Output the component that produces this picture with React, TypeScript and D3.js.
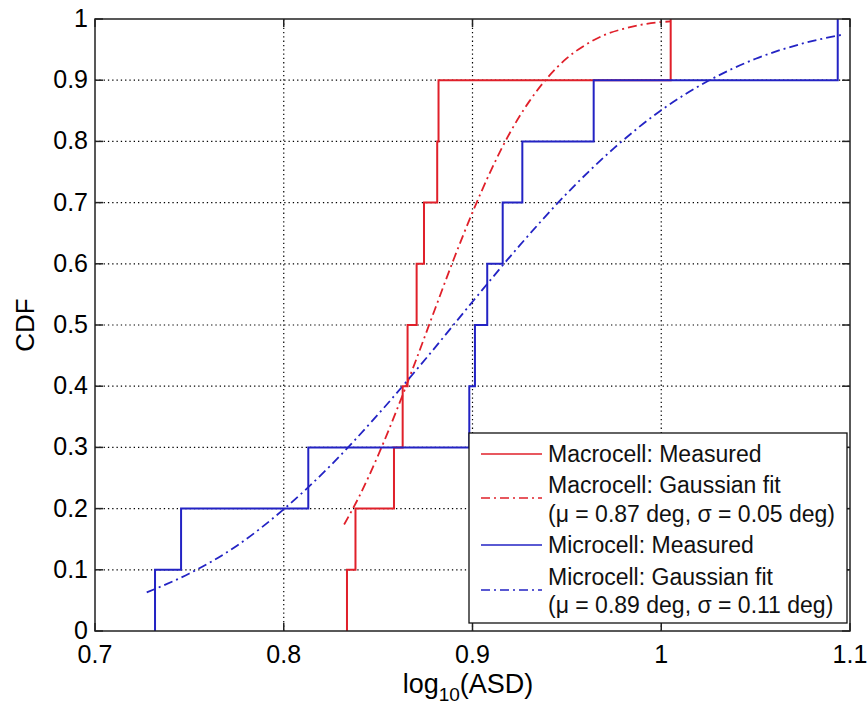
import React from 'react';
import * as d3 from 'd3';

const macroMeasured = [0.8335, 0.838, 0.8584, 0.863, 0.8656, 0.8704, 0.8743, 0.8813, 0.882, 1.005];
const microMeasured = [0.7318, 0.7456, 0.813, 0.8983, 0.9013, 0.9078, 0.916, 0.9264, 0.9642, 1.0935];
const cdfLevels = [0.1, 0.2, 0.3, 0.4, 0.5, 0.6, 0.7, 0.8, 0.9, 1.0];

// gaussian fit curves
const macroFitX = [0.832, 0.84, 0.85, 0.86, 0.87, 0.88, 0.89, 0.9, 0.91, 0.92, 0.93, 0.94, 0.95, 0.96, 0.97, 0.98, 0.99, 1.0, 1.005];
const macroFitY = [0.174, 0.22, 0.287, 0.362, 0.442, 0.525, 0.607, 0.684, 0.754, 0.815, 0.865, 0.905, 0.936, 0.958, 0.974, 0.984, 0.991, 0.995, 0.996];
const microFitX = [0.7274, 0.75, 0.775, 0.8, 0.825, 0.85, 0.875, 0.9, 0.925, 0.95, 0.975, 1.0, 1.025, 1.05, 1.075, 1.097];
const microFitY = [0.063, 0.094, 0.139, 0.199, 0.271, 0.354, 0.444, 0.538, 0.63, 0.715, 0.789, 0.851, 0.899, 0.935, 0.96, 0.975];

const xTicks = [0.7, 0.8, 0.9, 1.0, 1.1];
const yTicks = [0, 0.1, 0.2, 0.3, 0.4, 0.5, 0.6, 0.7, 0.8, 0.9, 1.0];

const RED = '#e0202a';
const BLUE = '#2323c4';
const DASHDOT = '9,4,2,4';
const FONT = '"Liberation Sans", Arial, Helvetica, sans-serif';

const margin = { left: 95, top: 19, right: 18, bottom: 76 };
const W = 868;
const H = 707;

export default function App() {
    const x = d3.scaleLinear().domain([0.7, 1.1]).range([margin.left, W - margin.right]);
    const y = d3.scaleLinear().domain([0, 1]).range([H - margin.bottom, margin.top]);

    const stairs = (xs: number[]) => {
        const pts: [number, number][] = [[xs[0], 0]];
        xs.forEach((v, i) => pts.push([v, cdfLevels[i]]));
        return d3.line<[number, number]>()
            .x(d => x(d[0]))
            .y(d => y(d[1]))
            .curve(d3.curveStepAfter)(pts) || '';
    };

    const fit = (xs: number[], ys: number[]) =>
        d3.line<number>()
            .x(d => x(d))
            .y((d, i) => y(ys[i]))
            .curve(d3.curveMonotoneX)(xs) || '';

    const x0 = x(0.7), x1 = x(1.1), y0 = y(0), y1 = y(1);
    const tick = 8;

    // legend
    const lg = { x: 469, y: 433, w: 378, h: 190 };
    const lineX0 = 481, lineX1 = 542, textX = 548;
    const legendRows = [
        { label: 'Macrocell: Measured', y: 454, color: RED, dash: null as string | null, lineY: 454 },
        { label: 'Macrocell: Gaussian fit', y: 485, color: RED, dash: DASHDOT, lineY: 498 },
        { label: '(\u03bc = 0.87 deg, \u03c3 = 0.05 deg)', y: 514, color: null, dash: null, lineY: 0 },
        { label: 'Microcell: Measured', y: 545, color: BLUE, dash: null, lineY: 545 },
        { label: 'Microcell: Gaussian fit', y: 577, color: BLUE, dash: DASHDOT, lineY: 590 },
        { label: '(\u03bc = 0.89 deg, \u03c3 = 0.11 deg)', y: 605, color: null, dash: null, lineY: 0 },
    ];

    return (
        <svg width={W} height={H} style={{ position: 'absolute', left: 0, top: 0, background: '#fff' }} fontFamily={FONT}>
            <rect x={0} y={0} width={W} height={H} fill="#fff" />

            {/* grid */}
            {xTicks.slice(1, -1).map(t => (
                <line key={'gx' + t} x1={x(t)} x2={x(t)} y1={y0} y2={y1} stroke="#000" strokeWidth={1.2} strokeDasharray="1.3,3" />
            ))}
            {yTicks.slice(1, -1).map(t => (
                <line key={'gy' + t} x1={x0} x2={x1} y1={y(t)} y2={y(t)} stroke="#000" strokeWidth={1.2} strokeDasharray="1.3,3" />
            ))}

            {/* fits */}
            <path d={fit(macroFitX, macroFitY)} fill="none" stroke={RED} strokeWidth={1.8} strokeDasharray={DASHDOT} />
            <path d={fit(microFitX, microFitY)} fill="none" stroke={BLUE} strokeWidth={1.8} strokeDasharray={DASHDOT} />

            {/* measured */}
            <path d={stairs(macroMeasured)} fill="none" stroke={RED} strokeWidth={2} />
            <path d={stairs(microMeasured)} fill="none" stroke={BLUE} strokeWidth={2} />

            {/* box and ticks */}
            <rect x={x0} y={y1} width={x1 - x0} height={y0 - y1} fill="none" stroke="#222" strokeWidth={1.5} />
            {xTicks.map(t => (
                <g key={'tx' + t}>
                    <line x1={x(t)} x2={x(t)} y1={y0} y2={y0 - tick} stroke="#222" strokeWidth={1.5} />
                    <line x1={x(t)} x2={x(t)} y1={y1} y2={y1 + tick} stroke="#222" strokeWidth={1.5} />
                    <text x={x(t)} y={663} textAnchor="middle" fontSize={25} fill="#000">{d3.format('~g')(t)}</text>
                </g>
            ))}
            {yTicks.map(t => (
                <g key={'ty' + t}>
                    <line x1={x0} x2={x0 + tick} y1={y(t)} y2={y(t)} stroke="#222" strokeWidth={1.5} />
                    <line x1={x1} x2={x1 - tick} y1={y(t)} y2={y(t)} stroke="#222" strokeWidth={1.5} />
                    <text x={88} y={y(t) + 8} textAnchor="end" fontSize={25} fill="#000">{d3.format('~g')(t)}</text>
                </g>
            ))}

            {/* axis labels */}
            <text transform="translate(34,325) rotate(-90)" textAnchor="middle" fontSize={26} fill="#000">CDF</text>
            <text x={468} y={693} textAnchor="middle" fontSize={27} fill="#000">
                log<tspan fontSize={19} dy={8}>10</tspan><tspan dy={-8}>(ASD)</tspan>
            </text>

            {/* legend */}
            <rect x={lg.x} y={lg.y} width={lg.w} height={lg.h} fill="#fff" stroke="#111" strokeWidth={1.3} />
            {legendRows.map(r => (
                <g key={r.label}>
                    {r.color && (
                        <line x1={lineX0} x2={lineX1} y1={r.lineY} y2={r.lineY} stroke={r.color} strokeWidth={1.5}
                            strokeDasharray={r.dash || undefined} />
                    )}
                    <text x={textX} y={r.y + 8} fontSize={23} fill="#111">{r.label}</text>
                </g>
            ))}
        </svg>
    );
}
